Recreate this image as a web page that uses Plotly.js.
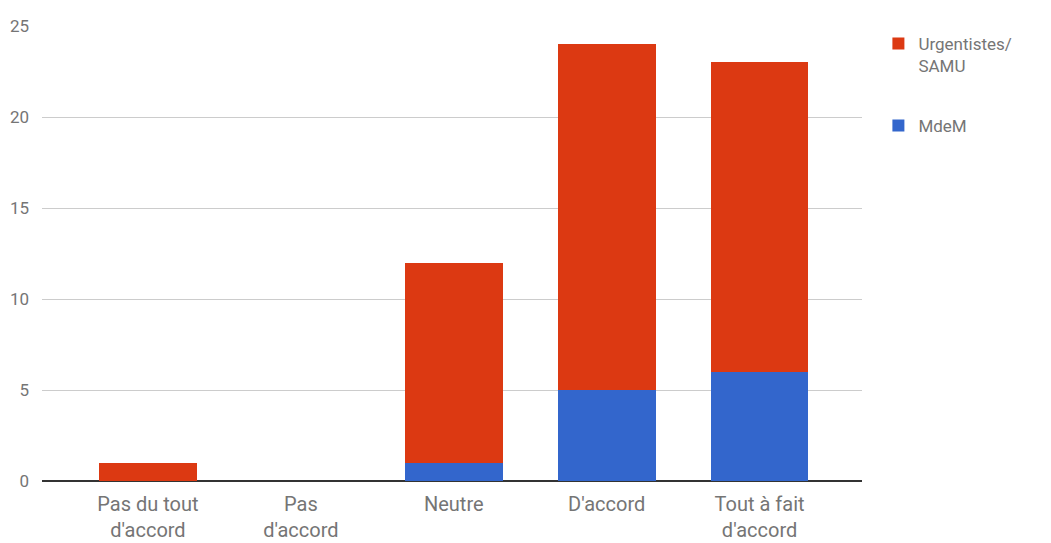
<!DOCTYPE html>
<html><head><meta charset="utf-8">
<script src="https://cdn.plot.ly/plotly-3.0.1.min.js"></script>
<style>html,body{margin:0;padding:0;background:#fff}#chart{width:1051px;height:543px}</style>
</head><body><div id="chart"></div>
<script>
const categories = ["Pas du tout<br>d'accord", "Pas<br>d'accord", "Neutre", "D'accord", "Tout à fait<br>d'accord"];
const mdemValues = [0, 0, 1, 5, 6];
const urgentistesValues = [1, 0, 11, 19, 17];
const seriesNames = ["Urgentistes/<br>SAMU", "MdeM"];
const yTicks = [0, 5, 10, 15, 20, 25];

const traces = [
  {type:'bar', x: categories, y: mdemValues, name: seriesNames[1], marker:{color:'#3366cc'}, width:0.64, legend:'legend2', hoverinfo:'y'},
  {type:'bar', x: categories, y: urgentistesValues, name: seriesNames[0], marker:{color:'#dc3912'}, width:0.64, legend:'legend', hoverinfo:'y'}
];
const layout = {
  width:1051, height:543,
  margin:{l:42, r:189, t:26, b:62},
  barmode:'stack',
  paper_bgcolor:'#fff', plot_bgcolor:'#fff',
  font:{family:'Roboto, sans-serif', color:'#757575'},
  xaxis:{range:[-0.693, 4.67], showgrid:false, zeroline:false, showline:false, ticks:'', ticklabelstandoff:9, tickfont:{size:20, color:'#757575'}, fixedrange:true},
  yaxis:{range:[0,25], tickvals:yTicks, ticktext:yTicks.map(String), showgrid:true, gridcolor:'#cccccc', gridwidth:1, zeroline:true, zerolinecolor:'#333333', zerolinewidth:2, showline:false, ticks:'', ticklabelstandoff:12, tickfont:{size:17, color:'#757575'}, fixedrange:true},
  showlegend:true,
  legend:{x:1.02, xanchor:'left', y:1.0, yanchor:'top', valign:'top', font:{size:17, color:'#757575'}, bgcolor:'rgba(0,0,0,0)'},
  legend2:{x:1.02, xanchor:'left', y:0.82, yanchor:'top', valign:'top', font:{size:17, color:'#757575'}, bgcolor:'rgba(0,0,0,0)'}
};
Plotly.newPlot('chart', traces, layout, {displayModeBar:false, staticPlot:true});
</script></body></html>
